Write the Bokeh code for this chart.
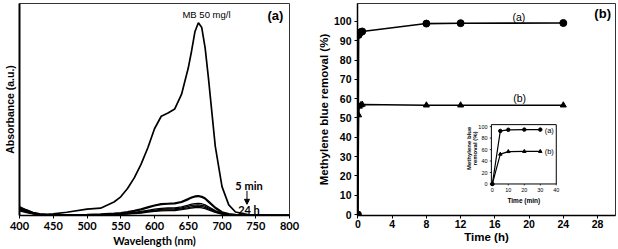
from bokeh.plotting import figure
from bokeh.layouts import row
from bokeh.models import Range1d, Arrow, NormalHead
from bokeh.core.properties import value
from bokeh.embed import file_html
from bokeh.resources import INLINE

# ---------------- data: panel (a) UV-Vis spectra ----------------
wavelength = [400, 410, 420, 430, 440, 450, 470, 500, 520, 540, 550, 560, 570, 580, 590,
              600, 610, 620, 630, 640, 650, 655, 660, 665, 670, 675, 680, 690, 700, 710,
              720, 740, 760, 800]
abs_mb50 = [0.040, 0.028, 0.015, 0.008, 0.006, 0.008, 0.017, 0.033, 0.038, 0.070, 0.097,
            0.140, 0.195, 0.265, 0.350, 0.450, 0.515, 0.532, 0.553, 0.628, 0.765, 0.855,
            0.955, 1.000, 0.975, 0.870, 0.710, 0.360, 0.150, 0.055, 0.018, 0.004, 0.002,
            0.001]
abs_5min = [0.034, 0.022, 0.012, 0.005, 0.003, 0.002, 0.002, 0.004, 0.006, 0.010, 0.013,
            0.018, 0.024, 0.032, 0.042, 0.052, 0.059, 0.061, 0.063, 0.070, 0.085, 0.093,
            0.099, 0.101, 0.097, 0.088, 0.072, 0.040, 0.017, 0.007, 0.003, 0.001, 0.001,
            0.000]
abs_t2 = [0.046, 0.030, 0.015, 0.006, 0.003, 0.002, 0.002, 0.003, 0.004, 0.007, 0.009,
          0.012, 0.016, 0.021, 0.027, 0.033, 0.037, 0.039, 0.040, 0.045, 0.054, 0.059,
          0.062, 0.063, 0.061, 0.055, 0.045, 0.025, 0.011, 0.004, 0.002, 0.001, 0.000,
          0.000]
abs_t3 = [0.040, 0.026, 0.013, 0.005, 0.003, 0.002, 0.002, 0.003, 0.004, 0.006, 0.008,
          0.010, 0.014, 0.018, 0.023, 0.028, 0.032, 0.034, 0.035, 0.039, 0.047, 0.052,
          0.054, 0.055, 0.053, 0.048, 0.039, 0.022, 0.010, 0.004, 0.002, 0.001, 0.000,
          0.000]
abs_t4 = [0.030, 0.019, 0.010, 0.004, 0.002, 0.002, 0.002, 0.002, 0.003, 0.005, 0.007,
          0.009, 0.012, 0.015, 0.020, 0.024, 0.028, 0.029, 0.030, 0.034, 0.041, 0.045,
          0.047, 0.048, 0.046, 0.042, 0.034, 0.019, 0.008, 0.003, 0.001, 0.000, 0.000,
          0.000]
abs_24h = [0.024, 0.015, 0.008, 0.003, 0.002, 0.001, 0.001, 0.002, 0.003, 0.004, 0.006,
           0.008, 0.010, 0.013, 0.017, 0.021, 0.024, 0.025, 0.026, 0.030, 0.036, 0.039,
           0.041, 0.042, 0.040, 0.036, 0.029, 0.016, 0.007, 0.003, 0.001, 0.000, 0.000,
           0.000]
wl_ticks = [400, 450, 500, 550, 600, 650, 700, 750, 800]

# ---------------- data: panel (b) removal vs time ----------------
time_h = [0, 0.083, 0.167, 0.333, 0.5, 8, 12, 24]
removal_a = [0, 93.0, 94.0, 94.5, 94.8, 98.9, 99.1, 99.2]
removal_b = [0, 51.5, 56.0, 56.7, 57.0, 56.6, 56.6, 56.6]
time_ticks = [0, 4, 8, 12, 16, 20, 24, 28]
removal_ticks = [0, 10, 20, 30, 40, 50, 60, 70, 80, 90, 100]

# inset (minutes)
time_min = [0, 5, 10, 20, 30]
inset_a = [0, 92.5, 94.5, 94.8, 94.8]
inset_b = [0, 52.0, 56.5, 56.8, 56.8]
inset_xticks = [0, 10, 20, 30, 40]
inset_yticks = [0, 20, 40, 60, 80, 100]

ARIAL = "Liberation Sans"
CALIBRI = "Lato"

# ================= panel (a) =================
p1 = figure(width=305, height=249, x_range=Range1d(400, 800), y_range=Range1d(0, 1.1),
            output_backend="svg", toolbar_location=None,
            min_border_left=18, min_border_right=16, min_border_top=2, min_border_bottom=33)
p1.grid.visible = False
p1.outline_line_color = "#333333"
p1.outline_line_width = 1

p1.xaxis.ticker = wl_ticks
p1.xaxis.major_tick_out = 3
p1.xaxis.major_tick_in = 0
p1.xaxis.minor_tick_line_color = None
p1.xaxis.axis_line_width = 1.5
p1.xaxis.major_label_text_font = CALIBRI
p1.xaxis.major_label_text_font_style = "bold"
p1.xaxis.major_label_text_font_size = "11px"
p1.xaxis.major_label_text_color = "black"
p1.xaxis.major_label_standoff = 3
p1.xaxis.axis_label = "Wavelength (nm)"
p1.xaxis.axis_label_text_font = CALIBRI
p1.xaxis.axis_label_text_font_style = "bold"
p1.xaxis.axis_label_text_font_size = "11px"
p1.xaxis.axis_label_text_color = "black"
p1.xaxis.axis_label_standoff = 1

p1.yaxis.ticker = []
p1.yaxis.major_tick_out = 0
p1.yaxis.major_tick_in = 0
p1.yaxis.minor_tick_line_color = None
p1.yaxis.major_label_standoff = 0
p1.yaxis.axis_line_width = 2
p1.yaxis.axis_label = "Absorbance (a.u.)"
p1.yaxis.axis_label_text_font = ARIAL
p1.yaxis.axis_label_text_font_style = "bold"
p1.yaxis.axis_label_text_font_size = "10.5px"
p1.yaxis.axis_label_text_color = "black"
p1.yaxis.axis_label_standoff = 4

for ys, lw in [(abs_24h, 1.3), (abs_t4, 1.3), (abs_t3, 1.3), (abs_t2, 1.3),
               (abs_5min, 2.2), (abs_mb50, 1.7)]:
    p1.line(wavelength, ys, line_color="black", line_width=lw)

p1.text(x=[677], y=[1.042], text=["MB 50 mg/l"], text_font=value(ARIAL),
        text_font_size="9.5px", text_align="center", text_baseline="middle", text_color="black")
p1.text(x=[779], y=[1.037], text=["(a)"], text_font=value(ARIAL), text_font_style="bold",
        text_font_size="13px", text_align="center", text_baseline="middle", text_color="black")
p1.text(x=[740], y=[0.154], text=["5 min"], text_font=value(CALIBRI), text_font_style="bold",
        text_font_size="11px", text_align="center", text_baseline="middle", text_color="black")
p1.text(x=[740], y=[0.031], text=["24 h"], text_font=value(CALIBRI), text_font_style="bold",
        text_font_size="11px", text_align="center", text_baseline="middle", text_color="black")
p1.add_layout(Arrow(end=NormalHead(size=5, fill_color="black", line_color="black"),
                    x_start=737, y_start=0.128, x_end=737, y_end=0.058,
                    line_color="black", line_width=1))

# ================= panel (b) =================
p2 = figure(width=313, height=249, x_range=Range1d(-0.05, 30.1), y_range=Range1d(-0.5, 109.3),
            output_backend="svg", toolbar_location=None,
            min_border_left=52, min_border_right=3, min_border_top=3, min_border_bottom=33)
p2.grid.visible = False
p2.outline_line_color = "#333333"
p2.outline_line_width = 1

for ax in (p2.xaxis, p2.yaxis):
    ax.major_tick_out = 3
    ax.major_tick_in = 0
    ax.minor_tick_line_color = None
    ax.axis_line_width = 1.5
    ax.major_label_text_font = ARIAL
    ax.major_label_text_font_style = "bold"
    ax.major_label_text_font_size = "10.5px"
    ax.major_label_text_color = "black"
    ax.axis_label_text_font = ARIAL
    ax.axis_label_text_font_style = "bold"
    ax.axis_label_text_font_size = "11.5px"
    ax.axis_label_text_color = "black"
p2.xaxis.ticker = time_ticks
p2.yaxis.ticker = removal_ticks
p2.xaxis.major_label_standoff = 1
p2.yaxis.major_label_standoff = 3
p2.xaxis.axis_label = "Time (h)"
p2.yaxis.axis_label = "Methylene blue removal (%)"
p2.xaxis.axis_label_standoff = 0
p2.yaxis.axis_label_standoff = 1

p2.line(time_h, removal_a, line_color="black", line_width=1.6)
p2.scatter(time_h, removal_a, marker="circle", size=7, fill_color="black", line_color="black")
p2.line(time_h, removal_b, line_color="black", line_width=1.4)
p2.scatter(time_h, removal_b, marker="triangle", size=6, fill_color="black", line_color="black")

p2.text(x=[18.8], y=[102.5], text=["(a)"], text_font=value(ARIAL), text_font_size="10.5px",
        text_align="center", text_baseline="middle", text_color="black")
p2.text(x=[18.9], y=[60.5], text=["(b)"], text_font=value(ARIAL), text_font_size="10.5px",
        text_align="center", text_baseline="middle", text_color="black")
p2.text(x=[28.6], y=[104.0], text=["(b)"], text_font=value(ARIAL), text_font_style="bold",
        text_font_size="13px", text_align="center", text_baseline="middle", text_color="black")

# ---- inset drawn on extra ranges inside panel (b) ----
p2.extra_x_ranges = {"ix": Range1d(-84.35, 77.05)}
p2.extra_y_ranges = {"iy": Range1d(-55.0, 314.8)}
IX = dict(x_range_name="ix", y_range_name="iy")

p2.quad(left=-0.6, right=inset_xticks[-1], bottom=0, top=103.5, fill_color=None,
        line_color="black", line_width=1, **IX)
p2.segment(x0=inset_xticks, y0=0, x1=inset_xticks, y1=-2.5, line_color="black",
           line_width=0.8, **IX)
p2.segment(x0=-0.6, y0=inset_yticks, x1=-1.6, y1=inset_yticks, line_color="black",
           line_width=0.8, **IX)
p2.text(x=inset_xticks, y=-10.5, text=[str(t) for t in inset_xticks], text_font=value(ARIAL),
        text_font_size="5.5px", text_align="center", text_baseline="middle",
        text_color="black", **IX)
p2.text(x=-3.0, y=inset_yticks, text=[str(t) for t in inset_yticks], text_font=value(ARIAL),
        text_font_size="5.5px", text_align="right", text_baseline="middle",
        text_color="black", **IX)
p2.text(x=[19.7], y=[-28.0], text=["Time (min)"], text_font=value(ARIAL),
        text_font_style="bold", text_font_size="6.5px", text_align="center",
        text_baseline="middle", text_color="black", **IX)
p2.text(x=[-13.0], y=[62.0], text=["Methylene blue\nremoval (%)"], angle=1.5708,
        text_font=value(ARIAL), text_font_style="bold", text_font_size="6px",
        text_align="center", text_baseline="middle", text_color="black",
        text_line_height=1.0, **IX)

p2.line(time_min, inset_a, line_color="black", line_width=1.2, **IX)
p2.scatter(time_min, inset_a, marker="circle", size=3.5, fill_color="black",
           line_color="black", **IX)
p2.line(time_min, inset_b, line_color="black", line_width=1.2, **IX)
p2.scatter(time_min, inset_b, marker="triangle", size=3.5, fill_color="black",
           line_color="black", **IX)
p2.text(x=[35.6], y=[94.0], text=["(a)"], text_font=value(ARIAL), text_font_size="7.5px",
        text_align="center", text_baseline="middle", text_color="black", **IX)
p2.text(x=[35.6], y=[56.6], text=["(b)"], text_font=value(ARIAL), text_font_size="7.5px",
        text_align="center", text_baseline="middle", text_color="black", **IX)

layout = row(p1, p2)
open("out.html", "w").write(file_html(layout, INLINE))
